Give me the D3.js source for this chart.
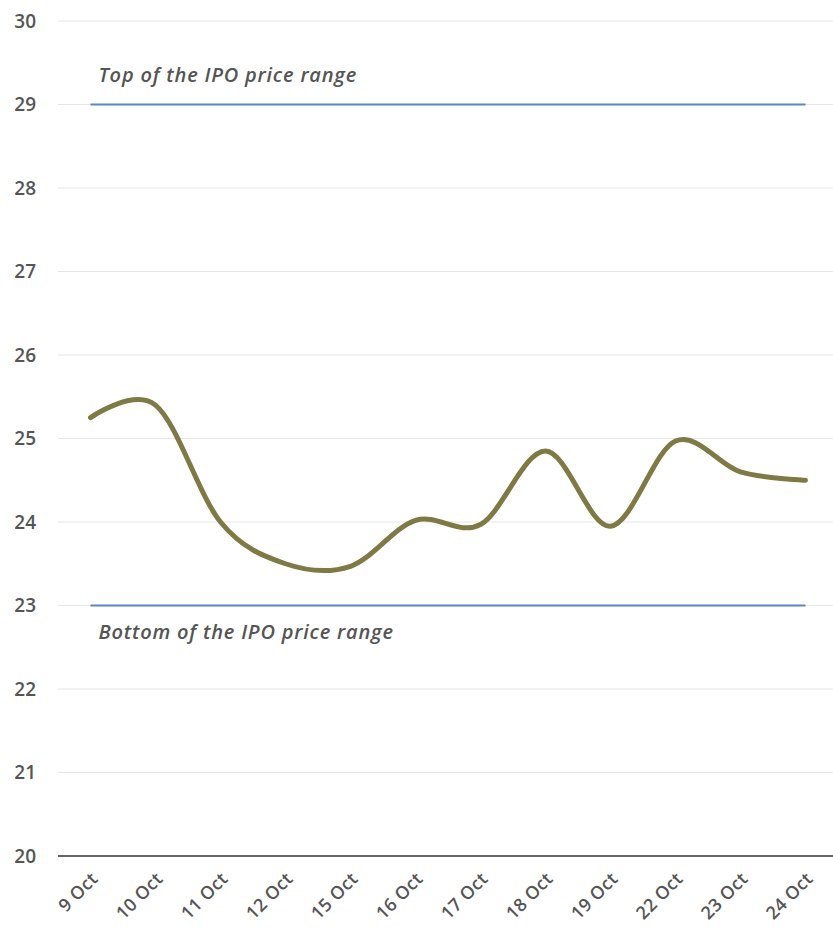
<!DOCTYPE html>
<html>
<head>
<meta charset="utf-8">
<script src="https://cdn.jsdelivr.net/npm/d3@7"></script>
<style>
  body { margin: 0; background: #fff; }
  svg { display: block; font-family: "Open Sans", Lato, sans-serif; }
</style>
</head>
<body>
<div id="chart"></div>
<script>
// dados
const dates = ["9 Oct", "10 Oct", "11 Oct", "12 Oct", "15 Oct", "16 Oct", "17 Oct", "18 Oct", "19 Oct", "22 Oct", "23 Oct", "24 Oct"];
const prices = [25.25, 25.4, 24.0, 23.5, 23.47, 24.02, 23.97, 24.85, 23.95, 24.97, 24.6, 24.5];
const yTicks = [20, 21, 22, 23, 24, 25, 26, 27, 28, 29, 30];
const rangeTop = 29;
const rangeBottom = 23;
const topLabel = "Top of the IPO price range";
const bottomLabel = "Bottom of the IPO price range";

const width = 833, height = 930;
const plotLeft = 58, plotRight = 838, plotTop = 21, plotBottom = 856;
const fontFam = "'Open Sans', Lato, sans-serif";

const svg = d3.select("#chart").append("svg")
    .attr("width", width)
    .attr("height", height);

const x = d3.scalePoint()
    .domain(dates)
    .range([plotLeft, plotRight])
    .padding(0.5);

const y = d3.scaleLinear()
    .domain([20, 30])
    .range([plotBottom, plotTop]);

// grelha
svg.append("g")
    .selectAll("line")
    .data(yTicks.filter(d => d !== 20))
    .enter()
    .append("line")
    .attr("x1", plotLeft)
    .attr("x2", width)
    .attr("y1", d => y(d))
    .attr("y2", d => y(d))
    .attr("stroke", "#e6e6e6")
    .attr("stroke-width", 1);

// eixo Y
const yAxis = svg.append("g")
    .attr("transform", `translate(36,0)`)
    .call(d3.axisLeft(y).tickValues(yTicks).tickSize(0).tickPadding(0));
yAxis.select(".domain").remove();
yAxis.selectAll("text")
    .attr("fill", "#555")
    .style("font-size", "19px")
    .style("font-weight", "600")
    .style("font-family", fontFam);

// linha base
svg.append("line")
    .attr("x1", plotLeft)
    .attr("x2", width)
    .attr("y1", y(20))
    .attr("y2", y(20))
    .attr("stroke", "#666")
    .attr("stroke-width", 2);

// eixo X
const xAxis = svg.append("g")
    .attr("transform", `translate(0,${y(20)})`)
    .call(d3.axisBottom(x).tickSize(0).tickPadding(0));
xAxis.select(".domain").remove();
xAxis.selectAll("text")
    .attr("fill", "#555")
    .style("font-size", "18px")
    .style("font-weight", "600")
    .style("letter-spacing", "0.3px")
    .style("font-family", fontFam)
    .attr("text-anchor", "end")
    .attr("dy", null)
    .attr("y", null)
    .attr("transform", "translate(8,24) rotate(-45)");

// linhas do intervalo do IPO
const first = x(dates[0]), last = x(dates[dates.length - 1]);
[rangeTop, rangeBottom].forEach(v => {
    svg.append("line")
        .attr("x1", first)
        .attr("x2", last)
        .attr("y1", y(v))
        .attr("y2", y(v))
        .attr("stroke", "#5b86c8")
        .attr("stroke-width", 2);
});

svg.append("text")
    .attr("x", first + 8)
    .attr("y", y(rangeTop) - 23)
    .attr("fill", "#555")
    .style("font-size", "20px")
    .style("font-style", "italic")
    .style("font-weight", "600")
    .style("letter-spacing", "0.8px")
    .text(topLabel);

svg.append("text")
    .attr("x", first + 8)
    .attr("y", y(rangeBottom) + 33)
    .attr("fill", "#555")
    .style("font-size", "20px")
    .style("font-style", "italic")
    .style("font-weight", "600")
    .style("letter-spacing", "0.8px")
    .text(bottomLabel);

// linha do preço
const line = d3.line()
    .x((d, i) => x(dates[i]))
    .y(d => y(d))
    .curve(d3.curveCardinal.tension(0));

svg.append("path")
    .datum(prices)
    .attr("d", line)
    .attr("fill", "none")
    .attr("stroke", "#7f7a45")
    .attr("stroke-width", 5)
    .attr("stroke-linecap", "round")
    .attr("stroke-linejoin", "round");
</script>
</body>
</html>
